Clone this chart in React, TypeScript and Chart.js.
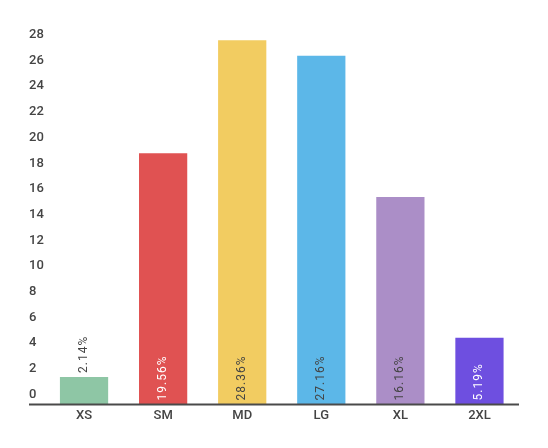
import { useEffect, useRef } from 'react'
import { Chart, registerables } from 'chart.js'

Chart.register(...registerables)

const sizes = ['XS', 'SM', 'MD', 'LG', 'XL', '2XL']
const shares = [2.14, 19.56, 28.36, 27.16, 16.16, 5.19]
const yTicks = [0, 2, 4, 6, 8, 10, 12, 14, 16, 18, 20, 22, 24, 26, 28]
const barColors = ['#8ec6a5', '#e05252', '#f2cc61', '#5cb7e8', '#ab8ec7', '#6e4fe0']
const labelColors = ['#444444', '#ffffff', '#444444', '#444444', '#444444', '#ffffff']

const TEXT = '#444444'

// baseline that runs under the y labels too
const baselinePlugin = {
  id: 'baseline',
  afterDatasetsDraw(chart: any) {
    const { ctx, chartArea, scales } = chart
    const y = scales.y.getPixelForValue(0)
    ctx.save()
    ctx.strokeStyle = '#4a4a4a'
    ctx.lineWidth = 2
    ctx.beginPath()
    ctx.moveTo(scales.y.left, y)
    ctx.lineTo(chartArea.right, y)
    ctx.stroke()
    ctx.restore()
  },
}

// rotated percentage labels, inside the bar or just above it when the bar is short
const barLabelPlugin = {
  id: 'barLabels',
  afterDatasetsDraw(chart: any) {
    const { ctx } = chart
    const meta = chart.getDatasetMeta(0)
    ctx.save()
    ctx.font = '12px Roboto'
    ;(ctx as any).letterSpacing = '1px'
    ctx.textBaseline = 'middle'
    ctx.textAlign = 'left'
    meta.data.forEach((bar: any, i: number) => {
      const text = shares[i].toFixed(2) + '%'
      const w = ctx.measureText(text).width
      const h = bar.base - bar.y
      let start = bar.base - 4
      let color = labelColors[i]
      if (w + 8 > h) {
        start = bar.y - 4
        color = TEXT
      }
      ctx.save()
      ctx.translate(bar.x, start)
      ctx.rotate(-Math.PI / 2)
      ctx.fillStyle = color
      ctx.fillText(text, 0, 0)
      ctx.restore()
    })
    ctx.restore()
  },
}

export default function App() {
  const canvasRef = useRef<HTMLCanvasElement>(null)

  useEffect(() => {
    if (!canvasRef.current) return
    const chart = new Chart(canvasRef.current, {
      type: 'bar',
      data: {
        labels: sizes,
        datasets: [
          {
            data: shares,
            backgroundColor: barColors,
            barPercentage: 0.61,
            categoryPercentage: 1,
          },
        ],
      },
      options: {
        animation: false,
        responsive: true,
        maintainAspectRatio: false,
        layout: { padding: { left: 21, right: 21, top: 24, bottom: 12 } },
        plugins: { legend: { display: false }, tooltip: { enabled: false } },
        scales: {
          x: {
            grid: { display: false, drawTicks: false },
            border: { display: false },
            ticks: { color: TEXT, font: { family: 'Roboto', size: 13, weight: 500 }, padding: 4 },
          },
          y: {
            min: 0,
            max: 29,
            grid: { display: false, drawTicks: false },
            border: { display: false },
            afterFit: (scale: any) => {
              scale.width = 15.5
            },
            afterBuildTicks: (scale: any) => {
              scale.ticks = yTicks.map((v) => ({ value: v }))
            },
            ticks: {
              crossAlign: 'far',
              labelOffset: -10,
              color: TEXT,
              font: { family: 'Roboto', size: 13, weight: 500 },
            },
          },
        },
      },
      plugins: [baselinePlugin, barLabelPlugin],
    })
    return () => chart.destroy()
  }, [])

  return (
    <div style={{ width: 532, height: 432 }}>
      <canvas ref={canvasRef} />
    </div>
  )
}
